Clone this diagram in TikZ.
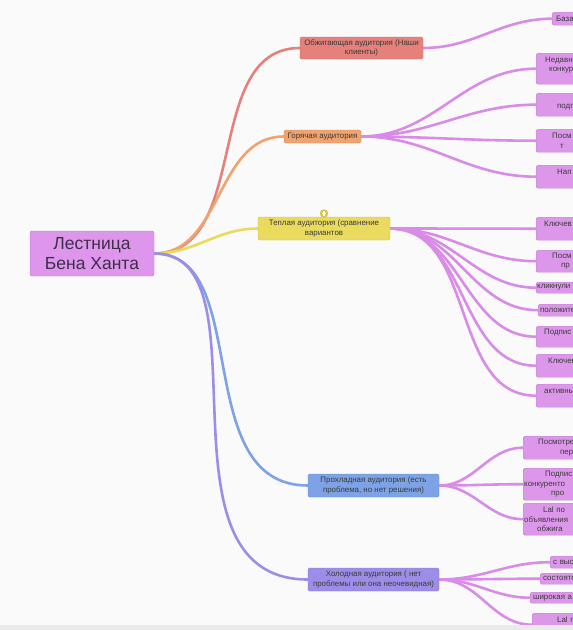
\documentclass[tikz,border=0pt]{standalone}
\usepackage{fontspec}
\setmainfont{Liberation Sans}
\usepackage{xcolor}
\usetikzlibrary{backgrounds}

\definecolor{bgwhite}{HTML}{FAFAFA}
\definecolor{bandgray}{HTML}{EAEAEA}
\definecolor{txtgray}{HTML}{3A3A3A}
\definecolor{roottxt}{HTML}{3E2F48}
\definecolor{rootc}{HTML}{DE95EC}
\definecolor{leafc}{HTML}{DD97EA}
\definecolor{linkc}{HTML}{D98BE8}
\definecolor{burnc}{HTML}{E5807A}
\definecolor{hotc}{HTML}{F0A36F}
\definecolor{warmc}{HTML}{EADB5E}
\definecolor{coolc}{HTML}{7DA3E6}
\definecolor{coldc}{HTML}{9E8DE6}

\newcommand{\midfont}{\fontsize{7.9}{9.3}\selectfont}
\newcommand{\rootfont}{\fontsize{17.5}{20}\selectfont}

\begin{document}
\begin{tikzpicture}[x=1pt, y=-1pt,
					block/.style={rectangle, draw=#1!88!black, fill=#1, line width=0.4pt, rounded corners=1.5pt,
						align=center, font=\midfont, text=txtgray, inner sep=0pt},
					leaf/.style={rectangle, draw=leafc!88!black, fill=leafc, line width=0.4pt, rounded corners=1.5pt,
						anchor=north west, text width=70pt, align=left, inner ysep=0pt, font=\midfont, text=txtgray},
					link/.style={line width=2.6pt, draw=#1, line cap=round},
					plusdot/.style={circle, fill=warmc!90!black, minimum size=8.5pt, inner sep=0pt,
						path picture={\draw[white, line width=1.1pt] ([xshift=-2.2pt]path picture bounding box.center) -- ([xshift=2.2pt]path picture bounding box.center)
							([yshift=-2.2pt]path picture bounding box.center) -- ([yshift=2.2pt]path picture bounding box.center);}}
					]
					\clip (0,0) rectangle (573,630);
					
					% --- Root ---
					\node[block=rootc, font=\rootfont, text=roottxt, minimum width=124pt, minimum height=45pt] (root) at (92,253.5) {Лестница\\ Бена Ханта};
					
					% --- Audience levels ---
					\node[block=burnc, minimum width=123pt, minimum height=22pt] (burn) at (361.5,48) {Обжигающая аудитория (Наши\\ клиенты)};
					\node[block=hotc, minimum width=77pt, minimum height=13pt] (hot) at (322.5,136.5) {Горячая аудитория};
					\node[block=warmc, minimum width=132pt, minimum height=23pt] (warm) at (324,228.5) {Теплая аудитория (сравнение\\ вариантов};
					\node[plusdot] (plus) at (324,213.5) {};
					\node[block=coolc, minimum width=131pt, minimum height=23pt] (cool) at (373.5,485.5) {Прохладная аудитория (есть\\ проблема, но нет решения)};
					\node[block=coldc, minimum width=131pt, minimum height=23pt] (cold) at (373.5,579.5) {Холодная аудитория ( нет\\ проблемы или она неочевидная)};
					
					% --- Burning: leaves ---
					\node[leaf, minimum height=13pt, inner xsep=4pt] (burn1) at (552,12) {База};
					
					% --- Hot: leaves ---
					\node[leaf, minimum height=31pt, inner xsep=9pt] (hot1) at (536,53) {Недавн\\\hspace*{4pt}конкур\\\mbox{}};
					\node[leaf, minimum height=23pt, inner xsep=21pt] (hot2) at (536,93) {\mbox{}\\подп};
					\node[leaf, minimum height=23pt, inner xsep=16pt] (hot3) at (536,129) {Посм\\\hspace*{8pt}т};
					\node[leaf, minimum height=23pt, inner xsep=21pt] (hot4) at (536,165) {Нап\\\mbox{}};
					
					% --- Warm: leaves ---
					\node[leaf, minimum height=23pt, inner xsep=8pt] (warm1) at (536,217) {Ключев\\\mbox{}};
					\node[leaf, minimum height=22pt, inner xsep=16pt] (warm2) at (536,250) {Посм\\\hspace*{9pt}пр};
					\node[leaf, minimum height=11pt, inner xsep=1pt] (warm3) at (536,282) {кликнули};
					\node[leaf, minimum height=12pt, inner xsep=2pt] (warm4) at (538,304) {положите};
					\node[leaf, minimum height=21pt, inner xsep=8pt] (warm5) at (536,326) {Подпис\\\mbox{}};
					\node[leaf, minimum height=23pt, inner xsep=12pt] (warm6) at (536,354) {Ключев\\\mbox{}};
					\node[leaf, minimum height=23pt, inner xsep=8pt] (warm7) at (536,384) {активны\\\mbox{}};
					
					% --- Cool: leaves ---
					\node[leaf, minimum height=23pt, inner xsep=15pt] (cool1) at (523,436) {Посмотре\\\hspace*{22pt}пер};
					\node[leaf, minimum height=32pt, inner xsep=1pt] (cool2) at (523,468) {\hspace*{21pt}Подпис\\конкуренто\\\hspace*{27pt}про};
					\node[leaf, minimum height=32pt, inner xsep=1pt] (cool3) at (523,503) {\hspace*{19pt}Lal по\\объявления\\\hspace*{13pt}обжига};
					
					% --- Cold: leaves ---
					\node[leaf, minimum height=12pt, inner xsep=3pt] (cold1) at (550,556) {с выс};
					\node[leaf, minimum height=11pt, inner xsep=3pt] (cold2) at (540,573) {состоятел};
					\node[leaf, minimum height=11pt, inner xsep=3pt] (cold3) at (530,592) {широкая а};
					\node[leaf, minimum height=23pt, inner xsep=25pt] (cold4) at (532,613) {Lal п\\\mbox{}};
					
					% --- Connectors (behind the boxes) ---
					\begin{scope}[on background layer]
						\fill[bgwhite] (0,0) rectangle (573,630);
						\draw[link=burnc] (root.east) to[out=0, in=180] (burn.west);
						\draw[link=hotc] (root.east) to[out=0, in=180] (hot.west);
						\draw[link=warmc] (root.east) to[out=0, in=180] (warm.west);
						\draw[link=coolc] (root.east) to[out=0, in=180, out looseness=0.92, in looseness=1.1] (cool.west);
						\draw[link=coldc] (root.east) to[out=0, in=180, out looseness=0.84, in looseness=1.15] (cold.west);
						\draw[link=linkc] (burn.east) to[out=0, in=180] (burn1.west);
						\foreach \k in {1,...,4} {\draw[link=linkc] (hot.east) to[out=0, in=180] (hot\k.west);}
						\foreach \k in {1,...,7} {\draw[link=linkc] (warm.east) to[out=0, in=180] (warm\k.west);}
						\foreach \k in {1,...,3} {\draw[link=linkc] (cool.east) to[out=0, in=180] (cool\k.west);}
						\foreach \k in {1,...,4} {\draw[link=linkc] (cold.east) to[out=0, in=180] (cold\k.west);}
					\end{scope}
					
					% --- Bottom band ---
					\fill[bandgray] (0,625) rectangle (573,630);
				\end{tikzpicture}
\end{document}
